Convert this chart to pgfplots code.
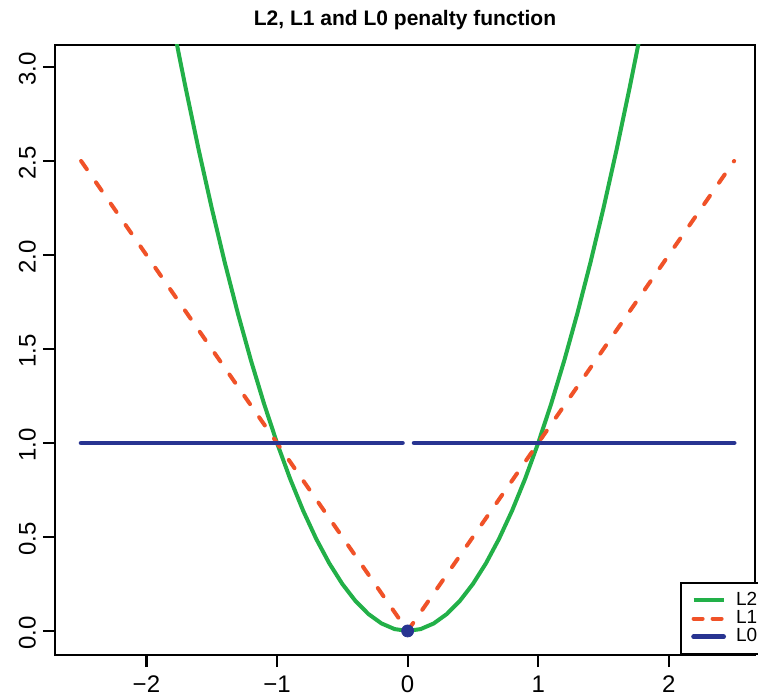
\documentclass[border=0pt]{standalone}
\usepackage{fontspec}
\setmainfont{Liberation Sans}
\usepackage{pgfplots}
\pgfplotsset{compat=1.18}
\definecolor{lgreen}{RGB}{34,176,72}
\definecolor{lred}{RGB}{240,82,40}
\definecolor{lblue}{RGB}{40,52,145}
\begin{document}
\begin{tikzpicture}
\useasboundingbox (-27.5pt,-21.5pt) rectangle (351.5pt,327.5pt);
\begin{axis}[
  at={(0,0)}, anchor=south west,
  scale only axis, width=350pt, height=305pt,
  xmin=-2.7, xmax=2.66, ymin=-0.128, ymax=3.117,
  xtick={-2,-1,0,1,2}, ytick={0,0.5,1,1.5,2,2.5,3},
  yticklabels={0.0,0.5,1.0,1.5,2.0,2.5,3.0},
  xticklabels={−2,−1,0,1,2},
  xtick pos=left, ytick pos=left, tick align=outside,
  major tick length=6pt,
  axis line style={line width=1.1pt}, every tick/.style={black, line width=1.1pt},
  tick label style={font=\fontsize{12}{12}\selectfont},
  xticklabel style={yshift=-1pt},
  yticklabel style={rotate=90, anchor=south, xshift=-1pt},
  /pgf/number format/assume math mode=true,
  title={\bfseries L2, L1 and L0 penalty function},
  title style={font=\fontsize{10.5}{12}\selectfont, yshift=-2pt},
  legend image code/.code={\draw[#1] (0pt,0pt) -- (15pt,0pt); \path (18pt,0pt);},
  legend style={at={(0.893,0)}, anchor=south west, draw=black, line width=1.1pt,
    font=\fontsize{9.5}{9.5}\selectfont, row sep=-3pt, inner xsep=5pt, inner ysep=2.5pt,
    text width=22pt},
  legend cell align=left,
  clip=true,
]
\addplot[lgreen, line width=2pt] coordinates {
(-1.8,3.24)(-1.75,3.0625)(-1.7,2.89)(-1.6,2.56)(-1.5,2.25)(-1.4,1.96)(-1.3,1.69)(-1.2,1.44)(-1.1,1.21)(-1.0,1.00)(-0.9,0.81)(-0.8,0.64)(-0.7,0.49)(-0.6,0.36)(-0.5,0.25)(-0.4,0.16)(-0.3,0.09)(-0.2,0.04)(-0.1,0.01)(0,0)(0.1,0.01)(0.2,0.04)(0.3,0.09)(0.4,0.16)(0.5,0.25)(0.6,0.36)(0.7,0.49)(0.8,0.64)(0.9,0.81)(1.0,1.00)(1.1,1.21)(1.2,1.44)(1.3,1.69)(1.4,1.96)(1.5,2.25)(1.6,2.56)(1.7,2.89)(1.75,3.0625)(1.8,3.24)};
\addlegendentry{L2}
\addplot[lred, line width=2pt, dash pattern=on 5pt off 8pt, line cap=round,
  legend image code/.code={\draw[dash pattern=on 4.5pt off 5pt] (0pt,0pt) -- (15pt,0pt); \path (18pt,0pt);}]
  coordinates {(-2.5,2.5)(0,0)(2.5,2.5)};
\addlegendentry{L1}
\addplot[lblue, line width=2.4pt, line cap=round] coordinates {(-2.5,1)(-0.04,1)};
\addlegendentry{L0}
\addplot[lblue, line width=2.4pt, line cap=round, forget plot] coordinates {(0.05,1)(2.5,1)};
\addplot[lblue, only marks, mark=*, mark size=3pt, forget plot] coordinates {(0,0)};
\end{axis}
\end{tikzpicture}
\end{document}
